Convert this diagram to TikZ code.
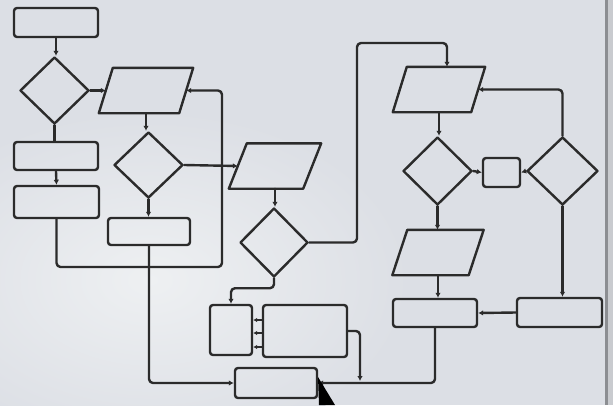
\documentclass[tikz,border=0pt]{standalone}
\usetikzlibrary{shapes.geometric,arrows.meta,calc}
\definecolor{ink}{HTML}{2B2B2B}
\definecolor{board}{HTML}{DCDFE5}
\definecolor{boardlight}{HTML}{EEF0F2}
\definecolor{edgedark}{HTML}{8C8E92}
\definecolor{edgelight}{HTML}{C9CBCF}
\begin{document}
\begin{tikzpicture}[x=1pt,y=-1pt,
  inkline/.style={draw=ink, line width=2.4pt, line cap=round, line join=round},
  box/.style={rectangle, inkline, rounded corners=3pt, inner sep=0pt},
  dia/.style={diamond, inkline, inner sep=0pt},
  parabody/.style={rectangle, inner sep=0pt, draw=none},
  conn/.style={inkline, rounded corners=4pt},
  arr/.style={conn, -{Latex[length=5pt,width=5.5pt]}},
  sarr/.style={conn, -{Latex[length=4pt,width=4.5pt]}}]
\useasboundingbox (0,0) rectangle (613,405);
% background
\begin{scope}
\clip (0,0) rectangle (613,405);
\fill[board] (0,0) rectangle (613,405);
\shade[inner color=boardlight, outer color=board] (150,280) ellipse [x radius=260, y radius=170];
\fill[edgelight] (606,0) rectangle (613,405);
\fill[edgedark] (605,0) rectangle (607.5,405);
\end{scope}

% left column
\node[box, minimum width=84pt, minimum height=29pt] (T1) at (56,22.5) {};
\node[dia, minimum width=69pt, minimum height=67pt] (D1) at (54.5,90.5) {};
\node[box, minimum width=84pt, minimum height=28pt] (L2) at (56,156) {};
\node[box, minimum width=85pt, minimum height=32pt] (L3) at (56.5,202) {};

% second column
\node[parabody, minimum width=80pt, minimum height=45pt] (P1) at (146,90.5) {};
\draw[inkline] ([xshift=-7pt]P1.south west) -- ([xshift=7pt]P1.north west) -- ([xshift=7pt]P1.north east) -- ([xshift=-7pt]P1.south east) -- cycle;
\node[dia, minimum width=69pt, minimum height=66pt] (D2) at (148.5,165) {};
\node[box, minimum width=82pt, minimum height=27pt] (B) at (149,231.5) {};

% middle column
\node[parabody, minimum width=74pt, minimum height=45pt] (P2) at (275,166) {};
\draw[inkline] ([xshift=-9pt]P2.south west) -- ([xshift=9pt]P2.north west) -- ([xshift=9pt]P2.north east) -- ([xshift=-9pt]P2.south east) -- cycle;
\node[dia, minimum width=68pt, minimum height=69pt] (D3) at (274,242.5) {};
\node[box, minimum width=42pt, minimum height=50pt] (M1) at (231,330) {};
\node[box, minimum width=84pt, minimum height=52pt] (M2) at (305,331) {};
\node[box, minimum width=82pt, minimum height=30pt] (Bot) at (276,383) {};

% right part
\node[parabody, minimum width=78pt, minimum height=45pt] (P3) at (439,89.5) {};
\draw[inkline] ([xshift=-7pt]P3.south west) -- ([xshift=7pt]P3.north west) -- ([xshift=7pt]P3.north east) -- ([xshift=-7pt]P3.south east) -- cycle;
\node[dia, minimum width=69pt, minimum height=68pt] (R1) at (437.5,171) {};
\node[box, minimum width=37pt, minimum height=29pt] (S) at (501.5,172.5) {};
\node[dia, minimum width=71pt, minimum height=68pt] (R2) at (562.5,171) {};
\node[parabody, minimum width=76pt, minimum height=45pt] (P4) at (438,252.5) {};
\draw[inkline] ([xshift=-7.5pt]P4.south west) -- ([xshift=7.5pt]P4.north west) -- ([xshift=7.5pt]P4.north east) -- ([xshift=-7.5pt]P4.south east) -- cycle;
\node[box, minimum width=84pt, minimum height=28pt] (R4) at (435,313) {};
\node[box, minimum width=85pt, minimum height=29pt] (R5) at (559.5,312.5) {};

% helper coordinates
\coordinate (c5) at (222,267);
\coordinate (c11) at (357,43);
\coordinate (p3in) at ($(P3.north)+(8,0)$);
\coordinate (join) at (360,381);

% connectors
\draw[arr] (T1.south) -- (T1.south |- D1.north);
\draw[arr] (D1.east) -- (P1.west);
\draw[conn] (D1.south) -- (D1.south |- L2.north);
\draw[arr] (L2.south) -- (L3.north);
\draw[arr] (L3.south) |- (c5) |- (P1.east);
\draw[arr] (P1.south) -- (P1.south |- D2.north);
\draw[arr] (D2.south) -- (D2.south |- B.north);
\draw[arr] (D2.east) -- (P2.west);
\draw[arr] (B.south) |- (Bot.west);
\draw[arr] (P2.south) -- (P2.south |- D3.north);
\draw[arr] (D3.east) -| (c11) -| (p3in);
\draw[arr] (D3.south) -- ++(0,10) -| (M1.north);
\foreach \d in {-11,2,16}
  \draw[sarr] ($(M2.west)+(0,\d)$) -- ($(M1.east |- M2.west)+(0,\d)$);
\draw[arr] (M2.east) -| (join);
\draw[arr] (P3.south) -- (P3.south |- R1.north);
\draw[arr] (R1.east) -- (S.west);
\draw[arr] (R2.west) -- (S.east);
\draw[arr] (R2.north) |- (P3.east);
\draw[arr] (R1.south) -- (R1.south |- P4.north);
\draw[arr] (R2.south) -- (R2.south |- R5.north);
\draw[arr] (P4.south) -- (P4.south |- R4.north);
\draw[arr] (R5.west) -- (R4.east);
\draw[arr] (R4.south) |- (Bot.east);

% mouse pointer
\fill[black] (318,377) -- (335,405) -- (319,405) -- cycle;
\end{tikzpicture}
\end{document}
